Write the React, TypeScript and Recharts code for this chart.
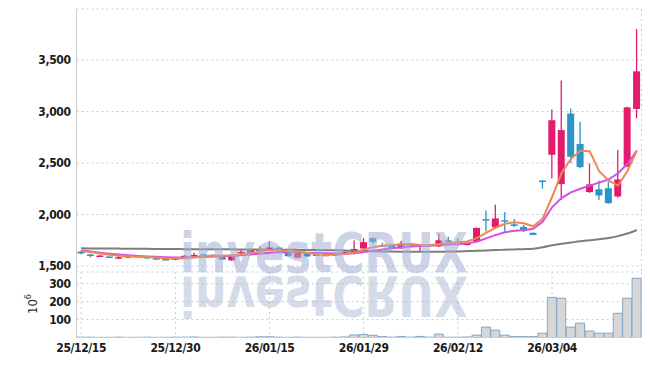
import React from 'react';
import { ComposedChart, Bar, Line, XAxis, YAxis, CartesianGrid } from 'recharts';

const dates = [
  '25/12/15', '25/12/16', '25/12/17', '25/12/18', '25/12/19', '25/12/22', '25/12/23', '25/12/24', '25/12/26', '25/12/29',
  '25/12/30', '26/01/02', '26/01/05', '26/01/06', '26/01/07', '26/01/08', '26/01/09', '26/01/12', '26/01/13', '26/01/14',
  '26/01/15', '26/01/16', '26/01/19', '26/01/20', '26/01/21', '26/01/22', '26/01/23', '26/01/26', '26/01/27', '26/01/28',
  '26/01/29', '26/01/30', '26/02/02', '26/02/03', '26/02/04', '26/02/05', '26/02/06', '26/02/09', '26/02/10', '26/02/11',
  '26/02/12', '26/02/13', '26/02/19', '26/02/20', '26/02/23', '26/02/24', '26/02/25', '26/02/26', '26/02/27', '26/03/03',
  '26/03/04', '26/03/05', '26/03/06', '26/03/09', '26/03/10', '26/03/11', '26/03/12', '26/03/13', '26/03/16', '26/03/17',
];

const opens = [
  1640, 1612, 1595, 1592, 1572, 1582, 1597, 1588, 1578, 1568,
  1560, 1585, 1592, 1614, 1608, 1587, 1555, 1632, 1628, 1655,
  1655, 1680, 1632, 1580, 1625, 1612, 1600, 1602, 1622, 1620,
  1670, 1770, 1702, 1700, 1672, 1718, 1692, 1706, 1690, 1750,
  1725, 1705, 1738, 1955, 1875, 1945, 1905, 1880, 1822, 2330,
  2580, 2295, 2980, 2685, 2218, 2245, 2255, 2175, 2465, 3025,
];
const highs = [
  1648, 1618, 1610, 1596, 1592, 1600, 1600, 1592, 1582, 1572,
  1582, 1605, 1628, 1618, 1612, 1592, 1608, 1655, 1670, 1695,
  1740, 1688, 1640, 1628, 1630, 1616, 1614, 1628, 1642, 1748,
  1770, 1778, 1725, 1705, 1745, 1722, 1712, 1712, 1815, 1785,
  1768, 1722, 1875, 2040, 2095, 2025, 1960, 1900, 1828, 2332,
  3020, 3300, 3030, 2900, 2495, 2330, 2320, 2625, 3045, 3800,
];
const lows = [
  1615, 1585, 1590, 1578, 1566, 1578, 1588, 1570, 1558, 1555,
  1556, 1580, 1588, 1598, 1598, 1558, 1550, 1620, 1622, 1630,
  1648, 1630, 1590, 1575, 1588, 1600, 1596, 1598, 1618, 1615,
  1665, 1710, 1688, 1668, 1668, 1695, 1640, 1695, 1685, 1732,
  1720, 1700, 1735, 1835, 1860, 1832, 1880, 1830, 1798, 2250,
  2350, 2140, 2500, 2450, 2210, 2140, 2105, 2165, 2460, 2935,
];
const closes = [
  1622, 1605, 1602, 1586, 1586, 1596, 1592, 1575, 1562, 1560,
  1578, 1600, 1608, 1604, 1603, 1562, 1600, 1638, 1662, 1662,
  1682, 1640, 1596, 1625, 1592, 1606, 1610, 1624, 1638, 1666,
  1732, 1735, 1696, 1675, 1718, 1700, 1708, 1700, 1750, 1738,
  1735, 1718, 1870, 1950, 1962, 1938, 1890, 1840, 1802, 2325,
  2915, 2820, 2560, 2460, 2292, 2185, 2110, 2340, 3040, 3390,
];

// moving averages
const ma5 = [
  1645, 1635, 1622, 1610, 1600, 1594, 1590, 1588, 1582, 1576,
  1572, 1576, 1585, 1595, 1603, 1600, 1604, 1612, 1624, 1640,
  1655, 1652, 1645, 1636, 1626, 1615, 1608, 1612, 1616, 1628,
  1660, 1682, 1696, 1704, 1710, 1714, 1704, 1702, 1714, 1724,
  1730, 1738, 1770, 1822, 1872, 1910, 1926, 1916, 1886, 1958,
  2170, 2400, 2540, 2620, 2615, 2420, 2330, 2280, 2420, 2620,
];
const ma10 = [
  1652, 1642, 1630, 1620, 1611, 1604, 1598, 1593, 1589, 1585,
  1582, 1582, 1584, 1588, 1593, 1596, 1600, 1605, 1612, 1620,
  1628, 1634, 1636, 1634, 1630, 1626, 1623, 1621, 1621, 1625,
  1636, 1648, 1660, 1672, 1683, 1690, 1694, 1698, 1704, 1709,
  1712, 1720, 1736, 1768, 1800, 1828, 1842, 1848, 1862, 1930,
  2070, 2160, 2215, 2250, 2280, 2310, 2340, 2400, 2490, 2620,
];
const ma60 = [
  1672, 1671, 1670, 1670, 1669, 1668, 1668, 1667, 1666, 1665,
  1665, 1664, 1664, 1663, 1663, 1662, 1662, 1661, 1661, 1660,
  1660, 1659, 1658, 1657, 1656, 1655, 1654, 1652, 1650, 1648,
  1646, 1644, 1642, 1640, 1639, 1638, 1638, 1638, 1639, 1640,
  1642, 1645, 1648, 1651, 1655, 1658, 1661, 1664, 1668, 1682,
  1702, 1716, 1728, 1740, 1750, 1760, 1772, 1790, 1815, 1850,
];

// volume, in millions
const volumes = [
  2, 2, 1, 1, 2, 1, 1, 2, 1, 1,
  2, 2, 3, 1, 1, 2, 2, 1, 2, 4,
  4, 2, 1, 2, 1, 1, 1, 2, 3, 14,
  17, 12, 5, 2, 6, 2, 6, 2, 19, 2,
  2, 3, 13, 58, 41, 13, 5, 5, 5, 24,
  224, 219, 58, 80, 36, 24, 24, 135, 219, 330,
];

const priceTicks = [1500, 2000, 2500, 3000, 3500];
const volumeTicks = [100, 200, 300];

const RED = '#e31b6d';
const BLUE = '#2b94c9';
const GRID = '#c6cce0';
const AXIS = '#cccccc';
const FONT = '"DejaVu Sans Condensed", "DejaVu Sans", sans-serif';

const rows = dates.map((date, i) => ({
  date,
  open: opens[i],
  high: highs[i],
  low: lows[i],
  close: closes[i],
  ma5: ma5[i],
  ma10: ma10[i],
  ma60: ma60[i],
  volume: volumes[i],
}));

const Candle = (props: any) => {
  const { x, y, width, height, payload } = props;
  if (!payload) return null;
  const { open, close, high, low } = payload;
  const top = Math.min(y, y + height);
  const h = Math.abs(height);
  const ratio = h / (high - low);
  const color = close >= open ? RED : BLUE;
  const bodyTop = top + (high - Math.max(open, close)) * ratio;
  const bodyBot = top + (high - Math.min(open, close)) * ratio;
  const cx = x + width / 2;
  const bw = 7;
  return (
    <g>
      <line x1={cx} x2={cx} y1={top} y2={top + h} stroke={color} strokeWidth={1.3} />
      <rect x={cx - bw / 2} y={bodyTop} width={bw} height={Math.max(1.5, bodyBot - bodyTop)} fill={color} />
    </g>
  );
};

const tickStyle = { fontFamily: FONT, fontSize: 12, fontWeight: 'bold', letterSpacing: -0.4, fill: '#1a1a1a' };
const margin = { top: 0, right: 6.5, bottom: 0, left: 8.5 };

export default function App() {
  return (
    <div style={{ position: 'relative', width: 640, height: 358 }}>
      <ComposedChart width={640} height={264} data={rows} margin={{ ...margin, top: 1 }} barCategoryGap={2}>
        <CartesianGrid stroke={GRID} strokeDasharray="2 3" />
        <XAxis dataKey="date" interval={9} height={0} tick={false} tickLine={false} axisLine={{ stroke: AXIS }} />
        <XAxis xAxisId="top" dataKey="date" orientation="top" height={0} tick={false} tickLine={false} axisLine={{ stroke: AXIS }} />
        <YAxis
          domain={[1442, 3995]}
          ticks={priceTicks}
          interval={0}
          width={60}
          tickLine={false}
          tickSize={4}
          tickMargin={2}
          axisLine={{ stroke: AXIS }}
          tick={tickStyle}
          tickFormatter={(v: number) => v.toLocaleString('en-US')}
        />
        <YAxis yAxisId="right" orientation="right" width={0} tick={false} tickLine={false} axisLine={{ stroke: AXIS }} />
        <Bar dataKey={(d: any) => [d.low, d.high]} shape={Candle} isAnimationActive={false} />
        <Line type="monotone" dataKey="ma60" stroke="#7d7d7d" strokeWidth={2} dot={false} isAnimationActive={false} />
        <Line type="linear" dataKey="ma10" stroke="#d34ee6" strokeWidth={2} dot={false} isAnimationActive={false} />
        <Line type="linear" dataKey="ma5" stroke="#ef8751" strokeWidth={2} dot={false} isAnimationActive={false} />
      </ComposedChart>
      <ComposedChart width={640} height={94} data={rows} margin={margin} barCategoryGap={0}>
        <CartesianGrid stroke={GRID} strokeDasharray="2 3" />
        <XAxis
          dataKey="date"
          interval={9}
          height={28.5}
          tickLine={false}
          tickSize={4}
          axisLine={{ stroke: AXIS }}
          tick={tickStyle}
        />
        <YAxis
          domain={[0, 365]}
          ticks={volumeTicks}
          interval={0}
          width={60}
          tickLine={false}
          tickSize={4}
          tickMargin={2}
          axisLine={{ stroke: AXIS }}
          tick={tickStyle}
        />
        <YAxis yAxisId="right" orientation="right" width={0} tick={false} tickLine={false} axisLine={{ stroke: AXIS }} />
        <Bar dataKey="volume" fill="#d6d6d6" stroke="#7fa8cc" strokeWidth={1} isAnimationActive={false} />
      </ComposedChart>
      <svg
        width={640}
        height={358}
        style={{ position: 'absolute', left: 0, top: 0, pointerEvents: 'none' }}
      >
        <g opacity={0.55} fill="#a3b0d2" fontFamily="DejaVu Sans" fontWeight="bold" fontSize={56}>
          <text x={172} y={264} textLength={288} lengthAdjust="spacingAndGlyphs">investCRUX</text>
          <text
            x={172}
            y={264}
            textLength={288}
            lengthAdjust="spacingAndGlyphs"
            transform="translate(0 533) scale(1 -1)"
            opacity={0.8}
          >
            investCRUX
          </text>
        </g>
        <text
          x={29}
          y={296}
          transform="rotate(-90 29 296)"
          textAnchor="middle"
          fontFamily={FONT}
          fontSize={13}
          fill="#333"
        >
          10
          <tspan dy={-6} fontSize={9}>6</tspan>
        </text>
      </svg>
    </div>
  );
}
